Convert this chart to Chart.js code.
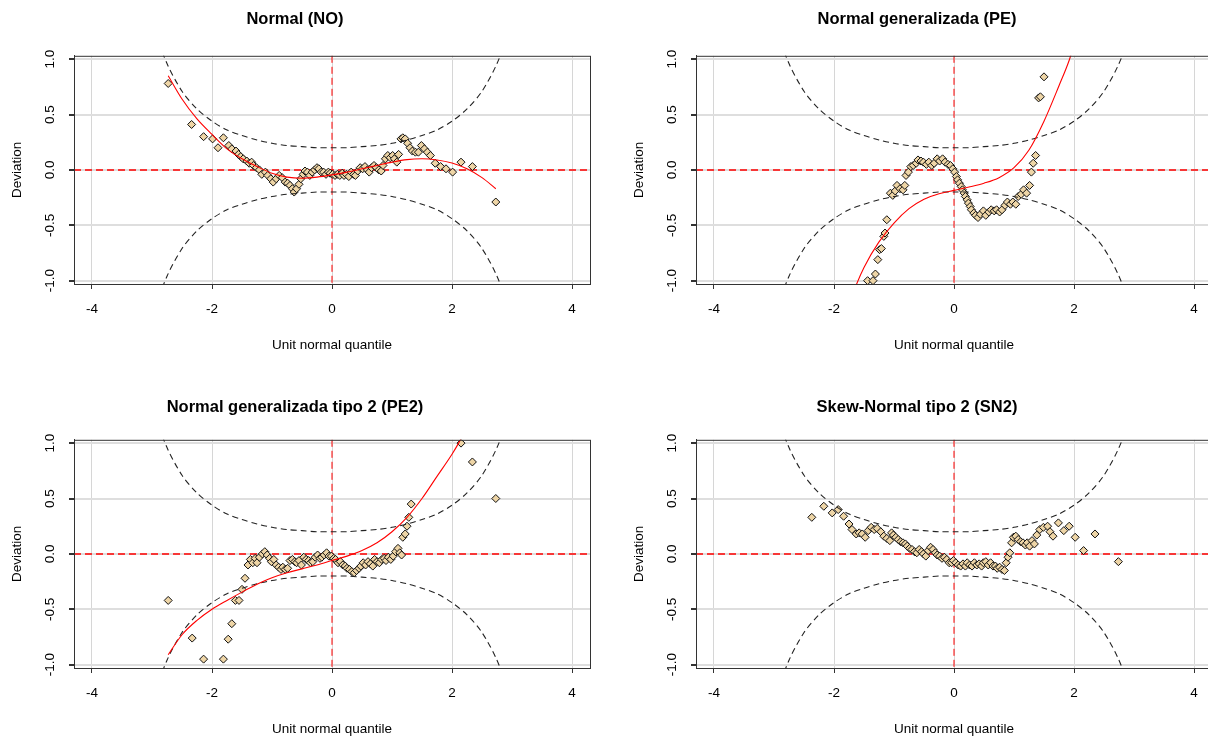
<!DOCTYPE html>
<html>
<head>
<meta charset="utf-8">
<script src="https://cdn.jsdelivr.net/npm/chart.js@4.4.0/dist/chart.umd.min.js"></script>
<style>
  html, body { margin: 0; padding: 0; background: #fff; }
  body { width: 1208px; height: 736px; overflow: hidden; position: relative; }
  .panel { position: absolute; width: 604px; height: 368px; }
</style>
</head>
<body>
<div class="panel" style="left:0px;top:0px"><canvas id="cNO" width="604" height="368"></canvas></div>
<div class="panel" style="left:622px;top:0px"><canvas id="cPE" width="604" height="368"></canvas></div>
<div class="panel" style="left:0px;top:384px"><canvas id="cPE2" width="604" height="368"></canvas></div>
<div class="panel" style="left:622px;top:384px"><canvas id="cSN2" width="604" height="368"></canvas></div>
<script>
// axis ticks
const xTicks = [-4, -2, 0, 2, 4];
const yTicks = [-1, -0.5, 0, 0.5, 1];
const yTickLabels = ["-1.0", "-0.5", "0.0", "0.5", "1.0"];

// worm points [unit normal quantile, deviation]
const wormNO = [[-2.73,0.78],[-2.34,0.41],[-2.14,0.30],[-1.99,0.28],[-1.90,0.20],[-1.81,0.29],[-1.72,0.22],[-1.67,0.19],[-1.60,0.17],[-1.56,0.14],[-1.52,0.12],[-1.48,0.10],[-1.42,0.08],[-1.38,0.06],[-1.34,0.07],[-1.31,0.04],[-1.26,0.02],[-1.21,0.00],[-1.17,-0.04],[-1.11,-0.02],[-1.07,-0.05],[-1.02,-0.08],[-0.98,-0.11],[-0.93,-0.08],[-0.88,-0.05],[-0.83,-0.07],[-0.78,-0.11],[-0.74,-0.12],[-0.70,-0.14],[-0.66,-0.17],[-0.63,-0.20],[-0.59,-0.17],[-0.55,-0.13],[-0.52,-0.08],[-0.48,-0.04],[-0.45,-0.01],[-0.41,-0.02],[-0.37,-0.05],[-0.33,-0.02],[-0.29,0.00],[-0.25,0.02],[-0.22,0.01],[-0.18,-0.02],[-0.14,-0.02],[-0.10,-0.04],[-0.06,-0.02],[-0.03,-0.03],[0.01,-0.04],[0.05,-0.05],[0.09,-0.04],[0.13,-0.05],[0.17,-0.03],[0.20,-0.05],[0.24,-0.04],[0.28,-0.06],[0.32,-0.02],[0.36,-0.04],[0.39,-0.05],[0.43,-0.01],[0.47,0.02],[0.51,0.01],[0.55,0.03],[0.59,0.00],[0.62,-0.02],[0.66,0.02],[0.70,0.04],[0.74,0.02],[0.78,0.00],[0.82,-0.01],[0.85,0.04],[0.89,0.10],[0.93,0.13],[0.97,0.11],[1.01,0.13],[1.04,0.10],[1.08,0.07],[1.11,0.14],[1.15,0.28],[1.18,0.29],[1.22,0.28],[1.26,0.24],[1.30,0.20],[1.34,0.17],[1.39,0.16],[1.44,0.16],[1.49,0.22],[1.54,0.19],[1.59,0.16],[1.64,0.13],[1.72,0.06],[1.81,0.03],[1.90,0.01],[2.01,-0.02],[2.15,0.07],[2.34,0.03],[2.73,-0.29]];

const wormPE = [[-1.44,-1.00],[-1.35,-1.00],[-1.31,-0.94],[-1.27,-0.81],[-1.24,-0.72],[-1.21,-0.71],[-1.17,-0.60],[-1.15,-0.57],[-1.12,-0.45],[-1.06,-0.21],[-1.02,-0.23],[-0.98,-0.19],[-0.95,-0.14],[-0.90,-0.17],[-0.85,-0.18],[-0.82,-0.14],[-0.80,-0.05],[-0.76,-0.02],[-0.72,0.03],[-0.68,0.04],[-0.63,0.06],[-0.60,0.09],[-0.55,0.08],[-0.51,0.07],[-0.46,0.05],[-0.42,0.07],[-0.37,0.04],[-0.33,0.06],[-0.28,0.10],[-0.24,0.08],[-0.19,0.10],[-0.15,0.07],[-0.10,0.05],[-0.06,0.04],[-0.02,0.01],[0.01,-0.02],[0.04,-0.06],[0.06,-0.09],[0.09,-0.12],[0.12,-0.15],[0.14,-0.18],[0.17,-0.21],[0.19,-0.24],[0.22,-0.27],[0.24,-0.30],[0.27,-0.33],[0.29,-0.36],[0.33,-0.39],[0.36,-0.41],[0.40,-0.43],[0.44,-0.40],[0.49,-0.37],[0.53,-0.41],[0.58,-0.38],[0.62,-0.36],[0.67,-0.37],[0.71,-0.36],[0.76,-0.38],[0.80,-0.36],[0.85,-0.32],[0.89,-0.29],[0.94,-0.31],[0.98,-0.29],[1.03,-0.31],[1.07,-0.24],[1.12,-0.22],[1.16,-0.18],[1.21,-0.21],[1.26,-0.14],[1.29,-0.02],[1.32,0.06],[1.36,0.13],[1.41,0.65],[1.44,0.66],[1.50,0.84]];

const wormPE2 = [[-2.73,-0.42],[-2.33,-0.76],[-2.14,-0.95],[-1.81,-0.95],[-1.73,-0.77],[-1.67,-0.63],[-1.61,-0.42],[-1.55,-0.42],[-1.50,-0.32],[-1.45,-0.22],[-1.40,-0.10],[-1.36,-0.05],[-1.32,-0.08],[-1.28,-0.04],[-1.25,-0.08],[-1.21,-0.03],[-1.16,0.00],[-1.12,0.02],[-1.08,-0.01],[-1.04,-0.04],[-1.01,-0.07],[-0.97,-0.05],[-0.93,-0.10],[-0.89,-0.12],[-0.85,-0.14],[-0.82,-0.12],[-0.78,-0.14],[-0.74,-0.13],[-0.70,-0.06],[-0.66,-0.05],[-0.62,-0.07],[-0.59,-0.08],[-0.55,-0.06],[-0.51,-0.10],[-0.47,-0.03],[-0.43,-0.05],[-0.39,-0.06],[-0.36,-0.08],[-0.32,-0.07],[-0.28,-0.03],[-0.24,-0.01],[-0.20,-0.04],[-0.17,-0.03],[-0.13,-0.01],[-0.09,0.01],[-0.05,-0.02],[-0.01,-0.02],[0.03,-0.04],[0.06,-0.05],[0.10,-0.08],[0.14,-0.07],[0.18,-0.10],[0.22,-0.11],[0.25,-0.13],[0.29,-0.14],[0.33,-0.16],[0.37,-0.17],[0.41,-0.15],[0.45,-0.13],[0.48,-0.11],[0.52,-0.08],[0.56,-0.10],[0.60,-0.07],[0.64,-0.09],[0.68,-0.11],[0.71,-0.05],[0.75,-0.07],[0.79,-0.08],[0.83,-0.05],[0.87,-0.04],[0.90,-0.06],[0.94,-0.03],[0.98,-0.05],[1.02,-0.02],[1.06,0.02],[1.10,0.05],[1.13,0.01],[1.16,-0.01],[1.18,0.15],[1.22,0.18],[1.25,0.25],[1.28,0.33],[1.32,0.45],[2.15,1.00],[2.34,0.83],[2.73,0.50]];

const wormSN2 = [[-2.37,0.33],[-2.17,0.43],[-2.03,0.37],[-1.93,0.40],[-1.84,0.34],[-1.75,0.27],[-1.70,0.22],[-1.63,0.18],[-1.58,0.19],[-1.53,0.18],[-1.48,0.15],[-1.43,0.21],[-1.38,0.24],[-1.33,0.22],[-1.28,0.23],[-1.22,0.20],[-1.17,0.16],[-1.12,0.14],[-1.07,0.12],[-1.04,0.19],[-1.01,0.17],[-0.97,0.15],[-0.93,0.13],[-0.89,0.11],[-0.85,0.10],[-0.81,0.09],[-0.78,0.07],[-0.74,0.05],[-0.70,0.04],[-0.66,0.02],[-0.62,0.01],[-0.58,0.04],[-0.54,0.02],[-0.51,0.00],[-0.47,-0.02],[-0.43,0.03],[-0.39,0.06],[-0.35,0.04],[-0.31,0.01],[-0.28,-0.01],[-0.24,-0.02],[-0.20,-0.04],[-0.16,-0.03],[-0.12,-0.05],[-0.08,-0.08],[-0.04,-0.08],[-0.01,-0.06],[0.03,-0.08],[0.07,-0.10],[0.11,-0.11],[0.15,-0.09],[0.19,-0.11],[0.22,-0.08],[0.26,-0.10],[0.30,-0.11],[0.34,-0.08],[0.38,-0.10],[0.42,-0.09],[0.46,-0.11],[0.49,-0.08],[0.53,-0.07],[0.57,-0.10],[0.61,-0.08],[0.65,-0.11],[0.69,-0.11],[0.72,-0.13],[0.76,-0.12],[0.80,-0.14],[0.84,-0.15],[0.87,-0.08],[0.90,-0.03],[0.93,0.01],[0.96,0.10],[0.99,0.15],[1.03,0.16],[1.07,0.13],[1.11,0.11],[1.15,0.10],[1.19,0.08],[1.22,0.10],[1.26,0.07],[1.30,0.12],[1.34,0.09],[1.38,0.17],[1.43,0.22],[1.49,0.24],[1.56,0.25],[1.60,0.20],[1.65,0.16],[1.74,0.28],[1.83,0.21],[1.92,0.25],[2.02,0.15],[2.16,0.03],[2.35,0.18],[2.74,-0.07]];

// fitted cubic curves
const fitNO = [[-2.73,0.85],[-2.5,0.64],[-2.25,0.46],[-2,0.32],[-1.75,0.19],[-1.5,0.10],[-1.25,0.03],[-1,-0.03],[-0.75,-0.065],[-0.5,-0.075],[-0.25,-0.065],[0,-0.045],[0.25,-0.02],[0.5,0.01],[0.75,0.04],[1,0.07],[1.25,0.093],[1.5,0.10],[1.75,0.09],[2,0.062],[2.25,0.01],[2.5,-0.07],[2.73,-0.17]];
const fitPE = [[-1.8,-1.3],[-1.63,-1.04],[-1.5,-0.88],[-1.25,-0.65],[-1,-0.48],[-0.75,-0.35],[-0.5,-0.265],[-0.25,-0.215],[0,-0.185],[0.25,-0.155],[0.5,-0.12],[0.75,-0.07],[1,0.02],[1.25,0.18],[1.5,0.44],[1.75,0.76],[1.92,0.99],[2.05,1.22]];
const fitPE2 = [[-2.73,-0.91],[-2.5,-0.73],[-2.25,-0.6],[-2,-0.5],[-1.75,-0.42],[-1.5,-0.345],[-1.25,-0.275],[-1,-0.215],[-0.75,-0.17],[-0.5,-0.135],[-0.25,-0.1],[0,-0.06],[0.25,-0.02],[0.5,0.03],[0.75,0.1],[1,0.2],[1.25,0.33],[1.5,0.5],[1.75,0.7],[2,0.9],[2.11,1.0],[2.3,1.2]];

// 95% band (dashed), same for every panel
const ciZ = [-3,-2.75,-2.5,-2.25,-2,-1.75,-1.5,-1.25,-1,-0.75,-0.5,-0.25,0,0.25,0.5,0.75,1,1.25,1.5,1.75,2,2.25,2.5,2.75,3];
const ciUpper = [1.32,0.96,0.71,0.55,0.44,0.36,0.31,0.27,0.24,0.22,0.21,0.20,0.20,0.20,0.21,0.22,0.24,0.27,0.31,0.36,0.44,0.55,0.71,0.96,1.32];
const ciLower = [-1.32,-0.96,-0.71,-0.55,-0.44,-0.36,-0.31,-0.27,-0.24,-0.22,-0.21,-0.20,-0.20,-0.20,-0.21,-0.22,-0.24,-0.27,-0.31,-0.36,-0.44,-0.55,-0.71,-0.96,-1.32];

const FONT = '"Liberation Sans", Arial, sans-serif';
Chart.defaults.font.family = FONT;
Chart.defaults.color = "#000";

const toXY = arr => arr.map(p => ({x: p[0], y: p[1]}));

// box, red reference lines and rotated y labels like base R
const worm = {
  id: "worm",
  beforeDatasetsDraw(chart) {
    const {ctx, chartArea: a, scales: {x, y}} = chart;
    ctx.save();
    ctx.strokeStyle = "red";
    ctx.setLineDash([7, 4]);
    ctx.lineWidth = 1.5;
    const py = y.getPixelForValue(0);
    ctx.beginPath(); ctx.moveTo(a.left, py); ctx.lineTo(a.right, py); ctx.stroke();
    ctx.lineWidth = 1;
    const px = x.getPixelForValue(0);
    ctx.beginPath(); ctx.moveTo(px, a.top); ctx.lineTo(px, a.bottom); ctx.stroke();
    ctx.restore();
  },
  afterDraw(chart) {
    const {ctx, chartArea: a, scales: {y}} = chart;
    ctx.save();
    ctx.strokeStyle = "#333";
    ctx.lineWidth = 1;
    ctx.strokeRect(a.left + 0.5, a.top + 0.5, a.right - a.left, a.bottom - a.top);
    ctx.font = "13.5px " + FONT;
    ctx.fillStyle = "#000";
    ctx.textAlign = "center";
    ctx.textBaseline = "middle";
    yTicks.forEach((v, i) => {
      ctx.save();
      ctx.translate(a.left - 24, y.getPixelForValue(v));
      ctx.rotate(-Math.PI / 2);
      ctx.fillText(yTickLabels[i], 0, 0);
      ctx.restore();
    });
    ctx.restore();
  }
};

function makeWorm(id, title, pts, fit, titlePad) {
  const datasets = [];
  if (fit) {
    datasets.push({data: toXY(fit), showLine: true, borderColor: "red", borderWidth: 1.1,
      pointRadius: 0, cubicInterpolationMode: "monotone", order: 0});
  }
  datasets.push({data: ciZ.map((z, i) => ({x: z, y: ciUpper[i]})), showLine: true,
    borderColor: "#222", borderWidth: 1.1, borderDash: [6, 4], pointRadius: 0, tension: 0.3, order: 1});
  datasets.push({data: ciZ.map((z, i) => ({x: z, y: ciLower[i]})), showLine: true,
    borderColor: "#222", borderWidth: 1.1, borderDash: [6, 4], pointRadius: 0, tension: 0.3, order: 1});
  datasets.push({data: toXY(pts), pointStyle: "rectRot", pointRadius: 4,
    backgroundColor: "#EED5A6", borderColor: "#111", borderWidth: 1, order: 2});

  new Chart(document.getElementById(id), {
    type: "scatter",
    data: {datasets},
    options: {
      responsive: false,
      animation: false,
      devicePixelRatio: 1,
      layout: {padding: {left: 0, right: 14, top: 0, bottom: 0}},
      plugins: {
        legend: {display: false},
        tooltip: {enabled: false},
        title: {display: true, text: title, color: "#000",
          font: {size: 16.5, weight: "bold", family: FONT},
          padding: {top: titlePad[0], bottom: titlePad[1]}}
      },
      scales: {
        x: {
          type: "linear", min: -4.3, max: 4.3,
          afterFit: s => { s.height = 84; },
          ticks: {stepSize: 2, includeBounds: false, padding: 12,
            font: {size: 13.5}, color: "#000",
            callback: v => xTicks.includes(v) ? String(v) : ""},
          grid: {color: "#d6d6d6", lineWidth: 1, tickLength: 5, tickColor: "#333"},
          border: {color: "#333"},
          title: {display: true, text: "Unit normal quantile", font: {size: 13.5},
            color: "#000", padding: {top: 0, bottom: 15}}
        },
        y: {
          type: "linear", min: -1.03, max: 1.03,
          afterFit: s => { s.width = 74; },
          ticks: {stepSize: 0.5, includeBounds: false, display: false},
          grid: {color: "#dedede", lineWidth: 2, tickLength: 5, tickColor: "#333"},
          border: {color: "#333"},
          title: {display: true, text: "Deviation", font: {size: 13.5},
            color: "#000", padding: {top: 9, bottom: 0}}
        }
      }
    },
    plugins: [worm]
  });
}

makeWorm("cNO", "Normal (NO)", wormNO, fitNO, [10, 26]);
makeWorm("cPE", "Normal generalizada (PE)", wormPE, fitPE, [10, 26]);
makeWorm("cPE2", "Normal generalizada tipo 2 (PE2)", wormPE2, fitPE2, [14, 22]);
makeWorm("cSN2", "Skew-Normal tipo 2 (SN2)", wormSN2, null, [14, 22]);
</script>
</body>
</html>
